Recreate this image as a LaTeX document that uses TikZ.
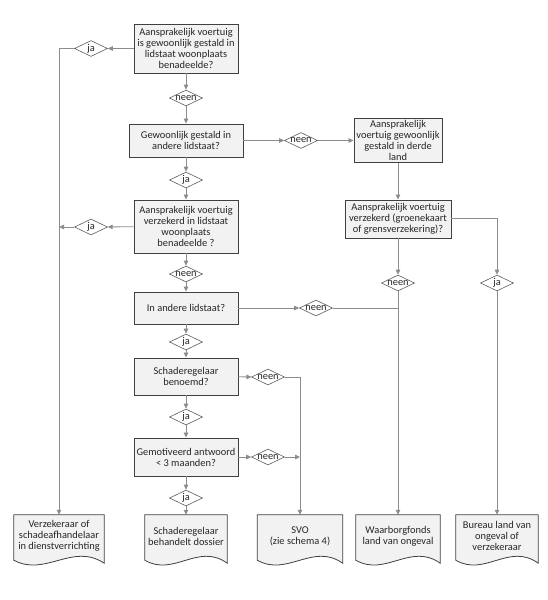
\documentclass[tikz,border=0pt]{standalone}
\usepackage{fontspec}
\setmainfont{Carlito}
\usetikzlibrary{shapes.geometric,arrows.meta,calc,backgrounds}
\definecolor{boxfill}{HTML}{F2F2F2}
\definecolor{boxline}{HTML}{404040}
\definecolor{connc}{HTML}{8C8C8C}
\definecolor{txt}{HTML}{262626}
\begin{document}
\begin{tikzpicture}[x=1pt,y=-1pt,
  every node/.style={font=\fontsize{10.4}{11.1}\selectfont, text=txt},
  qbox/.style={draw=boxline, fill=boxfill, line width=0.9pt, align=center, inner sep=1pt},
  dia/.style={diamond, draw=boxline!85, fill=white, line width=0.6pt, aspect=2, inner sep=0pt, minimum width=33pt, minimum height=16pt},
  docnode/.style={align=center, inner sep=0pt, minimum height=42pt},
  docshape/.style={draw=boxline, fill=boxfill, line width=0.8pt},
  cline/.style={draw=connc, line width=0.8pt},
  arr/.style={cline, -{Triangle[length=5pt,width=4.5pt]}}
]
\useasboundingbox (0,0) rectangle (548,600);

% question boxes
\node[qbox, minimum width=104pt, minimum height=49pt] (b1) at (186,48.5) {Aansprakelijk voertuig\\is gewoonlijk gestald in\\lidstaat woonplaats\\benadeelde?};
\node[qbox, minimum width=114pt, minimum height=33pt] (b2) at (186,140.5) {Gewoonlijk gestald in\\andere lidstaat?};
\node[qbox, minimum width=88pt, minimum height=44pt] (b3) at (398,140.5) {Aansprakelijk\\voertuig gewoonlijk\\gestald in derde\\land};
\node[qbox, minimum width=106pt, minimum height=38pt] (b4) at (398,219) {Aansprakelijk voertuig\\verzekerd (groenekaart\\of grensverzekering)?};
\node[qbox, minimum width=104pt, minimum height=53pt] (b5) at (186,226.5) {Aansprakelijk voertuig\\verzekerd in lidstaat\\woonplaats\\benadeelde ?};
\node[qbox, minimum width=104pt, minimum height=32pt] (b6) at (186,308) {In andere lidstaat?};
\node[qbox, minimum width=104pt, minimum height=37pt] (b7) at (186,376.5) {Schaderegelaar\\benoemd?};
\node[qbox, minimum width=104pt, minimum height=38pt] (b8) at (186,457) {Gemotiveerd antwoord\\< 3 maanden?};

% decision diamonds
\node[dia] (j1) at (91,48.5) {\makebox[0pt]{ja}};
\node[dia] (n1) at (186,98) {\makebox[0pt]{neen}};
\node[dia] (j2) at (186,180) {\makebox[0pt]{ja}};
\node[dia] (n2) at (301,140.5) {\makebox[0pt]{neen}};
\node[dia] (j5) at (91,227) {\makebox[0pt]{ja}};
\node[dia] (n5) at (186,274) {\makebox[0pt]{neen}};
\node[dia] (n4) at (398,283) {\makebox[0pt]{neen}};
\node[dia] (j4) at (497,283) {\makebox[0pt]{ja}};
\node[dia] (n6) at (316,308) {\makebox[0pt]{neen}};
\node[dia] (j6) at (186,342) {\makebox[0pt]{ja}};
\node[dia] (n7) at (268,377) {\makebox[0pt]{neen}};
\node[dia] (j7) at (186,417) {\makebox[0pt]{ja}};
\node[dia] (n8) at (268,457) {\makebox[0pt]{neen}};
\node[dia] (j8) at (186,498) {\makebox[0pt]{ja}};

% documents
\node[docnode, minimum width=90pt] (d1) at (59,536) {Verzekeraar of\\schadeafhandelaar\\in dienstverrichting};
\node[docnode, minimum width=82pt] (d2) at (186,536) {Schaderegelaar\\behandelt dossier};
\node[docnode, minimum width=85pt] (d3) at (300,536) {SVO\\(zie schema 4)};
\node[docnode, minimum width=84pt] (d4) at (398,536) {Waarborgfonds\\land van ongeval};
\node[docnode, minimum width=82pt] (d5) at (497,536) {Bureau land van\\ongeval of\\verzekeraar};

\begin{scope}[on background layer]
\foreach \d in {d1,d2,d3,d4,d5}{
  \path let \p1=(\d.south west), \p2=(\d.south east), \n1={\x2-\x1} in
    [docshape] (\d.north west) -- (\d.north east) -- ($(\d.south east)+(0,6)$)
    .. controls ($(\d.south west)+(0.65*\n1,-15)$) and ($(\d.south west)+(0.35*\n1,20)$) ..
    ($(\d.south west)+(0,3)$) -- cycle;
}
\end{scope}

% connectors
\draw[arr] (b1) -- (n1);
\draw[arr] (n1) -- (b2);
\draw[arr] (b1) -- (j1);
\draw[arr] (j1.west) -| (d1.north);
\draw[arr] (b2) -- (j2);
\draw[arr] (j2) -- (b5);
\draw[arr] (b2) -- (n2);
\draw[arr] (n2) -- (b3);
\draw[arr] (b3) -- (b4);
\draw[arr] (b4) -- (n4);
\draw[arr] (n4) -- (d4);
\draw[arr] ([yshift=0.5pt]b4.east) -| (j4.north);
\draw[arr] (j4) -- (d5);
\draw[arr] (b5) -- (j5);
\draw[arr] (j5.west) -- (j5.west -| d1.north);
\draw[arr] (b5) -- (n5);
\draw[arr] (n5) -- (b6);
\draw[arr] (b6) -- (j6);
\draw[arr] (j6) -- (b7);
\draw[arr] (b7) -- (j7);
\draw[arr] (j7) -- (b8);
\draw[arr] (b8) -- (j8);
\draw[arr] (j8) -- (d2);
\draw[arr] (b6) -- (n6);
\draw[cline] (n6.east) -- (n6.east -| n4.south);
\draw[arr] (b7) -- (n7);
\draw[arr] (n7.east) -| (d3.north);
\draw[arr] (b8) -- (n8);
\draw[arr] (n8.east) -- (n8.east -| d3.north);
\end{tikzpicture}
\end{document}
